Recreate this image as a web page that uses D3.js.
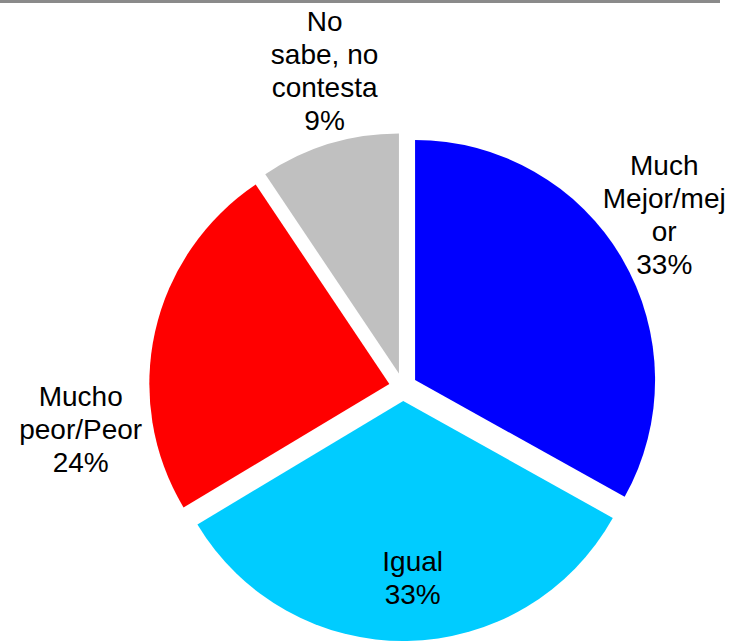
<!DOCTYPE html>
<html lang="es">
<head>
    <meta charset="UTF-8">
    <title>Pie chart</title>
    <script src="https://d3js.org/d3.v7.min.js"></script>
    <style>
        body {
            margin: 0;
            background: #fff;
            font-family: Arial, "Liberation Sans", sans-serif;
        }
    </style>
</head>
<body>
    <div id="chart"></div>
    <script>
        // data
        const categories = ["Much Mejor/mejor", "Igual", "Mucho peor/Peor", "No sabe, no contesta"];
        const values = [33.1, 33.3, 24.2, 9.4];
        const labelLines = [
            ["Much", "Mejor/mej", "or"],
            ["Igual"],
            ["Mucho", "peor/Peor"],
            ["No", "sabe, no", "contesta"]
        ];
        const colors = ["#0000ff", "#00ccff", "#ff0000", "#c0c0c0"];

        const width = 731, height = 641;
        const cx = 403, cy = 387, radius = 240, explode = 14;
        // where each label sits: angle shift (deg) from mid angle, distance from centre
        const labelPlace = [[-3, 313], [-2, 191], [-20, 325], [3, 326]];
        const lineH = 33;

        const svg = d3.select('#chart')
            .append('svg')
            .attr('width', width)
            .attr('height', height);

        // gray rule at the top
        svg.append('line')
            .attr('x1', 0).attr('x2', 720)
            .attr('y1', 1.5).attr('y2', 1.5)
            .attr('stroke', '#8a8a8a')
            .attr('stroke-width', 3);

        const pie = d3.pie().sort(null).value(d => d);
        const arcs = pie(values);
        const arc = d3.arc().innerRadius(0).outerRadius(radius);

        const g = svg.append('g').attr('transform', `translate(${cx},${cy})`);

        g.selectAll('path')
            .data(arcs)
            .enter().append('path')
            .attr('d', arc)
            .attr('fill', (d, i) => colors[i])
            .attr('transform', d => {
                const a = (d.startAngle + d.endAngle) / 2;
                return `translate(${Math.sin(a) * explode},${-Math.cos(a) * explode})`;
            });

        const labels = g.selectAll('text')
            .data(arcs)
            .enter().append('text')
            .attr('text-anchor', 'middle')
            .attr('font-size', 28)
            .attr('fill', '#000')
            .attr('transform', (d, i) => {
                const a = (d.startAngle + d.endAngle) / 2 + labelPlace[i][0] * Math.PI / 180;
                const r = labelPlace[i][1];
                return `translate(${Math.sin(a) * r},${-Math.cos(a) * r})`;
            });

        labels.each(function (d, i) {
            const lines = labelLines[i].concat([Math.round(values[i]) + '%']);
            const first = -(lines.length - 1) * lineH / 2 + 10;
            d3.select(this).selectAll('tspan')
                .data(lines)
                .enter().append('tspan')
                .attr('x', 0)
                .attr('y', (t, j) => first + j * lineH)
                .text(t => t);
        });
    </script>
</body>
</html>
